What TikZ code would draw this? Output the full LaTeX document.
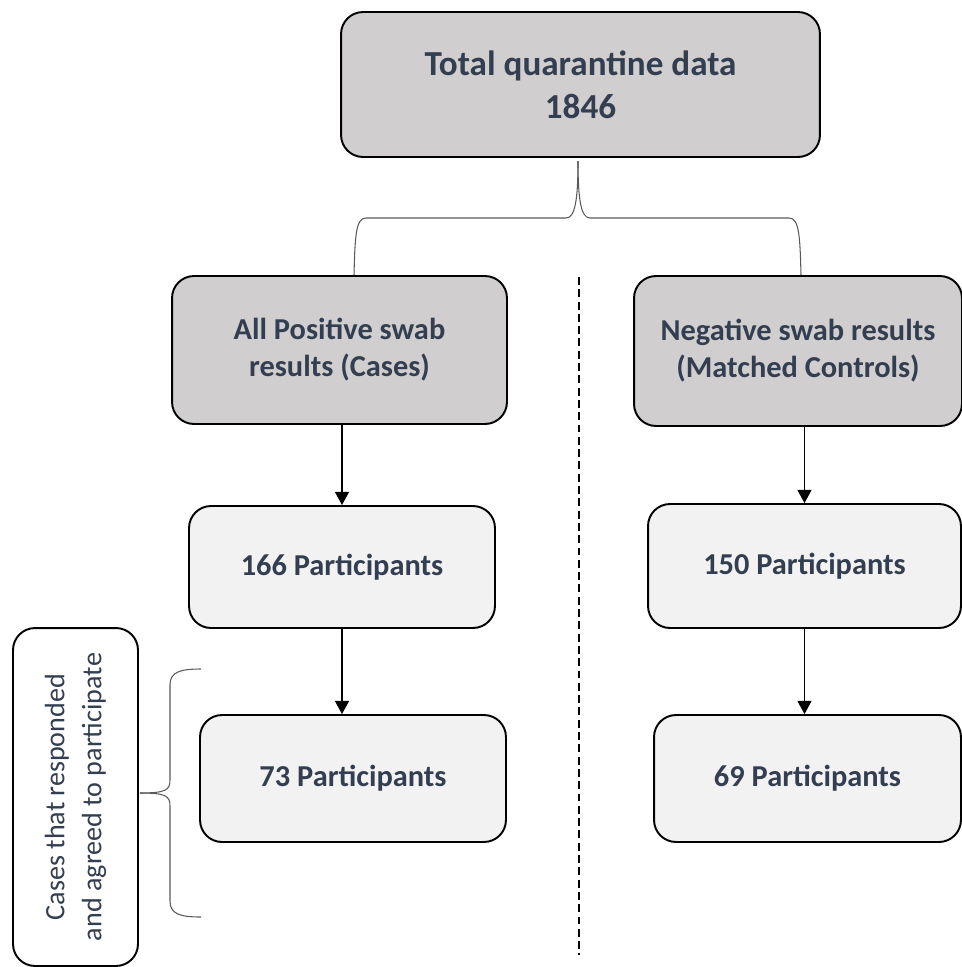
\documentclass[tikz,border=0pt]{standalone}
\usepackage{fontspec}
\setmainfont{Carlito}
\usetikzlibrary{arrows.meta}

\definecolor{txtblue}{HTML}{333F50}
\definecolor{headgray}{HTML}{D0CECE}
\definecolor{countgray}{HTML}{F2F2F2}
\definecolor{bracegray}{HTML}{595959}

\tikzset{
  box/.style={draw=black, line width=1.1pt, rounded corners=0.44cm, align=center,
    text=txtblue, inner sep=0pt, font=\bfseries\fontsize{17.3}{21}\selectfont},
  headbox/.style={box, fill=headgray},
  countbox/.style={box, fill=countgray},
  arr/.style={-{Triangle[length=7.5pt,width=8pt]}, line width=0.6pt},
  bracket/.style={draw=bracegray, line width=0.6pt},
}

\begin{document}
\begin{tikzpicture}[x=0.02cm, y=0.02cm]
\useasboundingbox (0,0) rectangle (961,-967);

% top box
\node[headbox, minimum width=9.58cm, minimum height=2.9cm,
  font=\bfseries\fontsize{20}{24.5}\selectfont] (total) at (580.5,-84.5)
  {Total quarantine data\\1846};

% the two groups
\node[headbox, minimum width=6.7cm, minimum height=2.96cm] (pos) at (339.5,-350)
  {All Positive swab\\results (Cases)};
\node[headbox, minimum width=6.56cm, minimum height=3.0cm] (neg) at (798,-351)
  {Negative swab results\\(Matched Controls)};

% left column
\node[countbox, minimum width=6.12cm, minimum height=2.44cm] (p166) at (342,-567) {166 Participants};
\node[countbox, minimum width=6.12cm, minimum height=2.54cm] (p73) at (353,-778.5) {73 Participants};

% right column
\node[countbox, minimum width=6.26cm, minimum height=2.48cm] (p150) at (804.5,-566) {150 Participants};
\node[countbox, minimum width=6.14cm, minimum height=2.54cm] (p69) at (807.5,-778.5) {69 Participants};

% side note
\node[box, fill=white, rotate=90, minimum width=6.76cm, minimum height=2.5cm,
  font=\fontsize{16}{21}\selectfont] (note) at (75.5,-797)
  {Cases that responded\\and agreed to participate};

% arrows
\draw[arr] (p166.north |- pos.south) -- (p166.north);
\draw[arr] (p166.south) -- (p166.south |- p73.north);
\draw[arr] (p150.north |- neg.south) -- (p150.north);
\draw[arr] (p150.south) -- (p150.south |- p69.north);

% top brace
\coordinate (tip) at (578,-161);
\coordinate (lleg) at (354,-275);
\coordinate (rleg) at (801,-275);
\draw[bracket] (lleg) .. controls (355,-235) and (356,-218) .. (366,-218) -- (566,-218)
  .. controls (575,-218) and (578,-200) .. (tip);
\draw[bracket] (tip) .. controls (578,-200) and (581,-218) .. (590,-218) -- (789,-218)
  .. controls (799,-218) and (800,-235) .. (rleg);

% left brace
\coordinate (btop) at (201,-669);
\coordinate (btip) at (140,-793);
\coordinate (bbot) at (201,-917);
\draw[bracket] (btop) .. controls (180,-669) and (170,-672) .. (170,-685) -- (170,-780)
  .. controls (170,-790) and (166,-793) .. (btip);
\draw[bracket] (btip) .. controls (166,-793) and (170,-796) .. (170,-806) -- (170,-901)
  .. controls (170,-914) and (180,-917) .. (bbot);

% divider
\coordinate (dtop) at (579,-277);
\coordinate (dbot) at (579,-955);
\draw[dash pattern=on 4.5pt off 2.5pt, line width=0.7pt] (dtop) -- (dbot);

\end{tikzpicture}
\end{document}
